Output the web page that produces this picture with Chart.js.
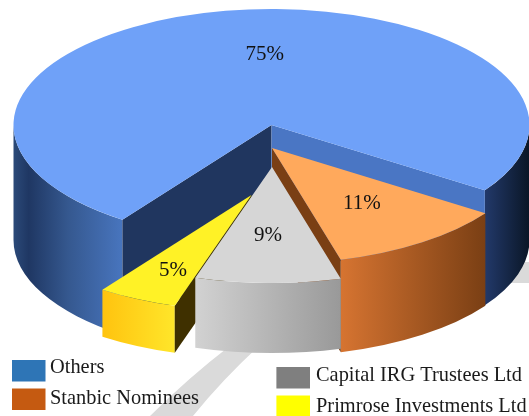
<!DOCTYPE html>
<html>
<head>
<meta charset="utf-8">
<style>html,body{margin:0;padding:0;background:#fff;overflow:hidden}canvas{display:block}</style>
<script src="https://cdn.jsdelivr.net/npm/chart.js@4"></script>
</head>
<body>
<canvas id="c" width="529" height="416"></canvas>
<script>
const categories = ['Others', 'Stanbic Nominees', 'Capital IRG Trustees Ltd', 'Primrose Investments Ltd'];
const shares = [74.7, 11.2, 9.1, 5.0];

const legendColors = ['#2e75b6', '#c55a11', '#7f7f7f', '#ffff00'];
const topColors = ['#6fa1f8', '#ffa95c', '#d6d6d6', '#fff226'];

const RX = 258, RY = 116;
const centerX = [271.5, 272, 272, 251.5];
const topY = [125, 148, 167, 195];
const wallH = [115, 92.5, 70, 47];
const startFace = ['#20365f', null, null, '#3f3000'];
const endFace = ['#4a76c4', '#7a3f14', null, null];
const drawOrder = [0, 1, 3, 2];
const wallStops = [
  [[[0, '#2b4a79'], [0.14, '#1f3763'], [0.5, '#35588f'], [1, '#4875be']],
   [[0, '#22396a'], [1, '#0a1626']]],
  [[[0, '#d67431'], [1, '#7a3f14']]],
  [[[0, '#d2d2d2'], [1, '#999999']]],
  [[[0, '#ffc30f'], [1, '#ffe62a']]]
];
const labelPos = [[245.5, 59.5], [343, 209], [254, 241], [159, 276]];
const legendBoxes = [[12, 360, 33.5, 21.5], [12, 388.5, 33.5, 21.5], [276.4, 367, 33.6, 21.5], [276.4, 395.5, 33.6, 21]];
const legendText = [[50, 373], [50, 404], [316, 381], [316, 411.5]];
const SERIF = '"Liberation Serif", "DejaVu Serif", serif';

function wallPath(ctx, cx, y, h, a0, a1) {
  ctx.beginPath();
  ctx.ellipse(cx, y, RX, RY, 0, a0, a1);
  ctx.ellipse(cx, y + h, RX, RY, 0, a1, a0, true);
  ctx.closePath();
}
function facePath(ctx, cx, y, h, a) {
  const px = cx + RX * Math.cos(a), py = y + RY * Math.sin(a);
  ctx.beginPath();
  ctx.moveTo(cx, y);
  ctx.lineTo(px, py);
  ctx.lineTo(px, py + h);
  ctx.lineTo(cx, y + h);
  ctx.closePath();
}
function frontSegments(a0, a1) {
  const out = [];
  for (const base of [0, 2 * Math.PI]) {
    const s = Math.max(a0, base), e = Math.min(a1, base + Math.PI);
    if (e > s) out.push([s, e]);
  }
  return out;
}

const pie3d = {
  id: 'pie3d',
  beforeDatasetsDraw(chart) {
    const ctx = chart.ctx;
    const arcs = chart.getDatasetMeta(0).data;

    ctx.fillStyle = '#dadada';
    ctx.beginPath();
    ctx.moveTo(231, 345);
    ctx.quadraticCurveTo(188, 378, 150, 416);
    ctx.lineTo(193, 416);
    ctx.quadraticCurveTo(222, 380, 260, 345);
    ctx.closePath();
    ctx.fill();
    ctx.fillRect(505, 262, 24, 21);

    for (const i of drawOrder) {
      const arc = arcs[i];
      const cx = centerX[i], y = topY[i], h = wallH[i];
      const a0 = arc.startAngle, a1 = arc.endAngle;

      frontSegments(a0, a1).forEach((seg) => {
        const xs = [cx + RX * Math.cos(seg[0]), cx + RX * Math.cos(seg[1])];
        const xStart = Math.abs(seg[1] - Math.PI) < 1e-6 ? cx - RX : Math.min(...xs);
        const xEnd = Math.abs(seg[0] - 2 * Math.PI) < 1e-6 ? cx + RX : Math.max(...xs);
        const g = ctx.createLinearGradient(xStart, 0, xEnd, 0);
        const stops = wallStops[i][seg[0] >= 2 * Math.PI ? wallStops[i].length - 1 : 0];
        stops.forEach(s => g.addColorStop(s[0], s[1]));
        ctx.fillStyle = g;
        wallPath(ctx, cx, y, h, seg[0], seg[1]);
        ctx.fill();
      });

      if (startFace[i]) {
        ctx.fillStyle = startFace[i];
        facePath(ctx, cx, y, h, a0);
        ctx.fill();
      }
      if (endFace[i]) {
        ctx.fillStyle = endFace[i];
        facePath(ctx, cx, y, h, a1);
        ctx.fill();
      }

      ctx.save();
      ctx.translate(cx, y);
      ctx.scale(RX / arc.outerRadius, RY / arc.outerRadius);
      ctx.translate(-arc.x, -arc.y);
      arc.draw(ctx, chart.chartArea);
      ctx.restore();
    }
    return false;
  },
  afterDraw(chart) {
    const ctx = chart.ctx;
    ctx.save();
    ctx.textAlign = 'left';
    ctx.textBaseline = 'alphabetic';
    ctx.fillStyle = '#111111';
    ctx.font = '21px ' + SERIF;
    shares.forEach((v, i) => {
      ctx.fillText(Math.round(v) + '%', labelPos[i][0], labelPos[i][1]);
    });
    ctx.font = '20.4px ' + SERIF;
    categories.forEach((name, i) => {
      const b = legendBoxes[i];
      ctx.fillStyle = legendColors[i];
      ctx.fillRect(b[0], b[1], b[2], b[3]);
      ctx.fillStyle = '#1a1a1a';
      ctx.fillText(name, legendText[i][0], legendText[i][1]);
    });
    ctx.restore();
  }
};

new Chart(document.getElementById('c'), {
  type: 'pie',
  data: {
    labels: categories,
    datasets: [{ data: shares, backgroundColor: topColors, borderWidth: 0, hoverOffset: 0 }]
  },
  options: {
    responsive: false,
    animation: false,
    rotation: 215.3,
    layout: { padding: 0 },
    plugins: { legend: { display: false }, tooltip: { enabled: false } }
  },
  plugins: [pie3d]
});
</script>
</body>
</html>
